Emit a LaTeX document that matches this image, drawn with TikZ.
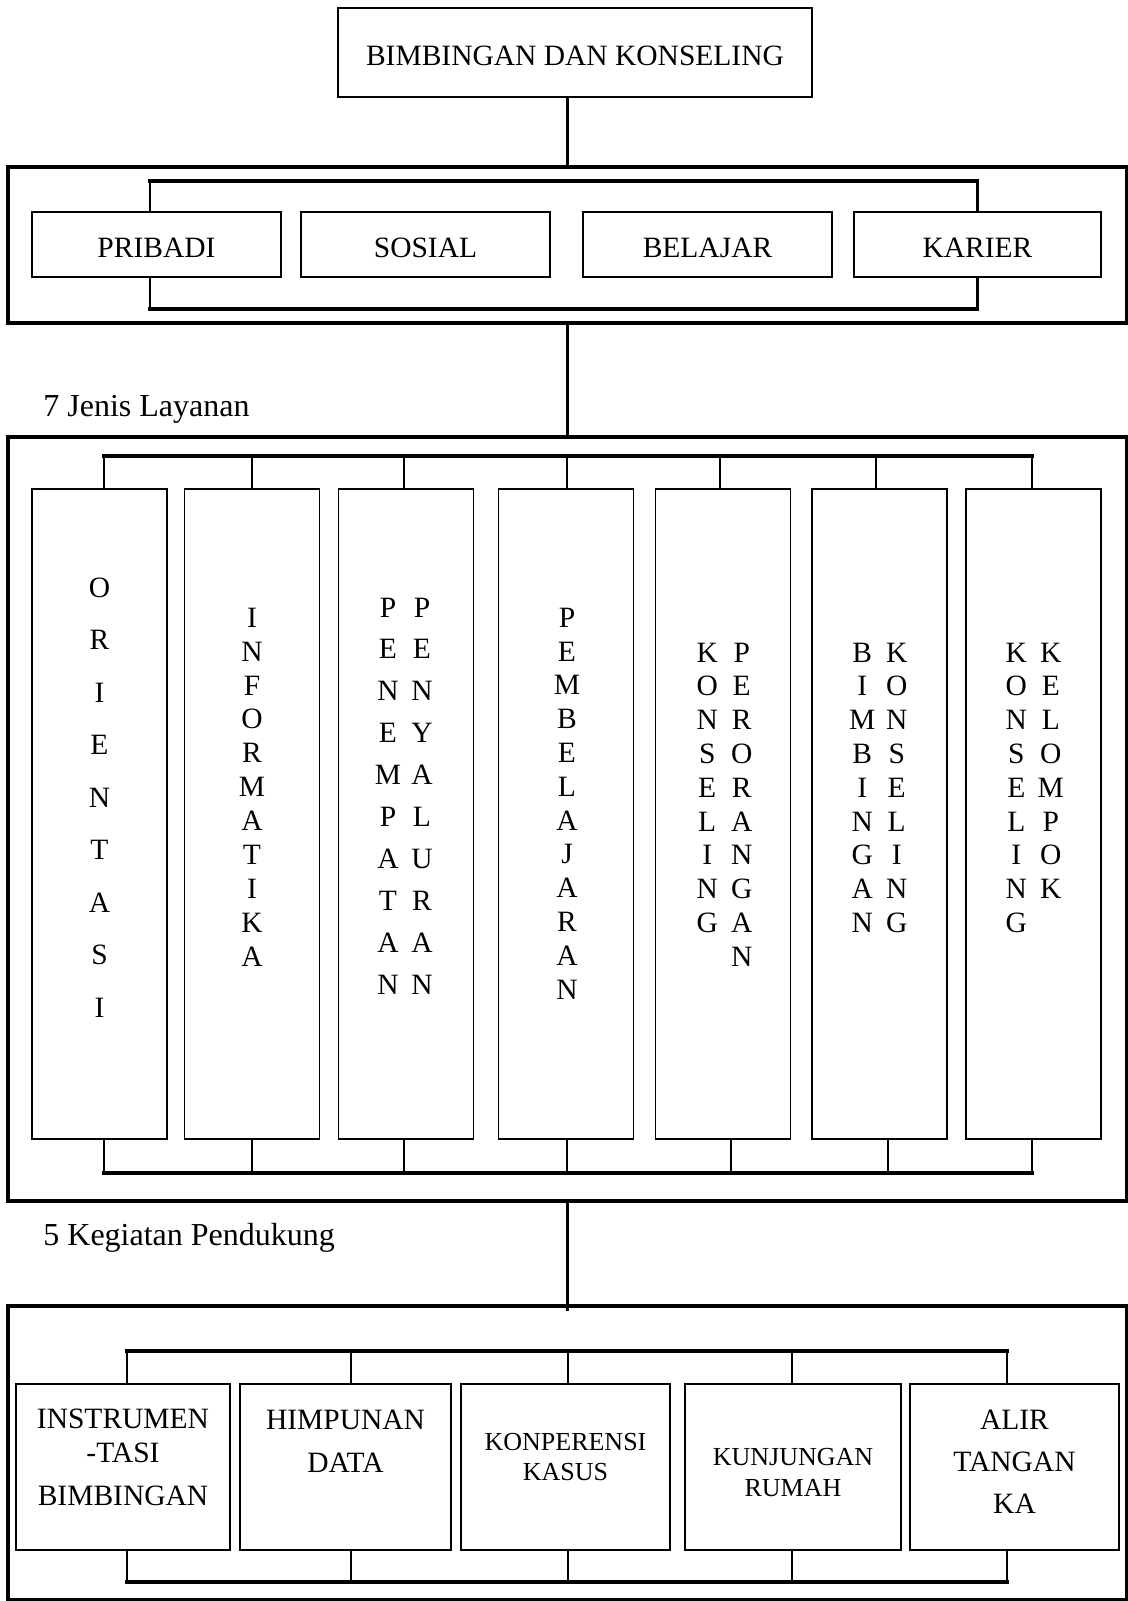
\documentclass[tikz,border=0pt]{standalone}
\usepackage{fontspec}
\setmainfont{Liberation Serif}
\usetikzlibrary{matrix,positioning}

\newcommand{\boxfont}{\fontsize{14.75}{17}\selectfont}
\newcommand{\smallfont}{\fontsize{13}{15}\selectfont}
\newcommand{\labfont}{\fontsize{16}{19}\selectfont}

\tikzset{
  box/.style={draw, line width=0.95pt, inner sep=0pt, font=\boxfont},
  frame/.style={draw, line width=1.75pt, inner sep=0pt, minimum width=559.5pt},
  field/.style={box, minimum width=124.5pt, minimum height=32.5pt, text height=13.3pt, text depth=0pt},
  column/.style={box, minimum width=67.5pt, minimum height=325pt},
  support/.style={box, minimum height=83pt},
  caption/.style={inner sep=0pt, align=center, font=\boxfont},
  link/.style={line width=1.35pt},
  bar/.style={line width=1.7pt, line cap=rect},
  lab/.style={font=\labfont, inner sep=0pt},
  letters/.style={matrix of nodes, ampersand replacement=\&, inner sep=0pt,
    column sep=3.25pt, row sep=7.1pt,
    nodes={inner sep=0pt, minimum width=14pt, text height=9.8pt, text depth=0pt, font=\boxfont}}
}

\begin{document}
\begin{tikzpicture}[x=0.5pt, y=-0.5pt]
\useasboundingbox (0,0) rectangle (1128,1601);

% puncak
\node[box, minimum width=237pt, minimum height=44.5pt, text height=13.3pt, text depth=0pt] (bimkon) at (575,52.5) {BIMBINGAN DAN KONSELING};

% bidang bimbingan
\node[frame, minimum height=78pt] (sec1) at (567.5,245) {};
\draw[link] (sec1.north) -- (sec1.north |- bimkon.south);
\node[field] (pribadi) at (156.5,244.5) {PRIBADI};
\node[field] (sosial) at (425.5,244.5) {SOSIAL};
\node[field] (belajar) at (707.5,244.5) {BELAJAR};
\node[field, minimum width=123.5pt] (karier) at (977.5,244.5) {KARIER};
\draw[link] ([xshift=-3.25pt]pribadi.north) -- ++(0,-30);
\draw[link] (karier.north) -- ++(0,-30);
\draw[bar] ([xshift=-3.25pt,yshift=15pt]pribadi.north) -- ([yshift=15pt]karier.north);
\draw[link] ([xshift=-3.25pt]pribadi.south) -- ++(0,31);
\draw[link] (karier.south) -- ++(0,31);
\draw[bar] ([xshift=-3.25pt,yshift=-15.5pt]pribadi.south) -- ([yshift=-15.5pt]karier.south);

% layanan
\node[lab, anchor=base west] (jenis) at (43,416) {7 Jenis Layanan};
\node[frame, minimum height=382pt] (sec2) at (567.5,819) {};
\draw[link] (sec1.south) -- (sec2.north);
\node[column] (c-ori) at (99.5,814) {};
\node[column] (c-inf) at (252,814) {};
\node[column] (c-pen) at (406,814) {};
\node[column] (c-pem) at (566,814) {};
\node[column] (c-kp) at (723,814) {};
\node[column] (c-bk) at (879.5,814) {};
\node[column] (c-kk) at (1033.5,814) {};

\matrix (ori-t) [letters, row sep=16.45pt, below=44.6pt of c-ori.north]
  {O\\R\\I\\E\\N\\T\\A\\S\\I\\};
\matrix (inf-t) [letters, row sep=7.15pt, below=59.6pt of c-inf.north]
  {I\\N\\F\\O\\R\\M\\A\\T\\I\\K\\A\\};
\matrix (pen-t) [letters, row sep=11.15pt, column sep=3pt, below=54.5pt of c-pen.north, xshift=-0.5pt]
  {P \& P\\ E \& E\\ N \& N\\ E \& Y\\ M \& A\\ P \& L\\ A \& U\\ T \& R\\ A \& A\\ N \& N\\};
\matrix (pem-t) [letters, below=59.6pt of c-pem.north, xshift=0.5pt]
  {P\\E\\M\\B\\E\\L\\A\\J\\A\\R\\A\\N\\};
\matrix (kp-t) [letters, below=77pt of c-kp.north, xshift=0.75pt]
  {K \& P\\ O \& E\\ N \& R\\ S \& O\\ E \& R\\ L \& A\\ I \& N\\ N \& G\\ G \& A\\ \& N\\};
\matrix (bk-t) [letters, below=77pt of c-bk.north]
  {B \& K\\ I \& O\\ M \& N\\ B \& S\\ I \& E\\ N \& L\\ G \& I\\ A \& N\\ N \& G\\};
\matrix (kk-t) [letters, below=77pt of c-kk.north]
  {K \& K\\ O \& E\\ N \& L\\ S \& O\\ E \& M\\ L \& P\\ I \& O\\ N \& K\\ G \& \\};

\foreach \nm/\dt/\db in {ori/2.25/2.25, inf/0/0, pen/-1/-1, pem/0.5/0.5, kp/-1.5/4, bk/-1.75/4.25, kk/-0.75/-0.75} {
  \draw[link] ([xshift=\dt pt]c-\nm.north) -- ++(0,-32);
  \draw[link] ([xshift=\db pt]c-\nm.south) -- ++(0,33);
}
\draw[bar] ([xshift=2.25pt,yshift=16pt]c-ori.north) -- ([xshift=-0.75pt,yshift=16pt]c-kk.north);
\draw[bar] ([xshift=2.25pt,yshift=-16.5pt]c-ori.south) -- ([xshift=-0.75pt,yshift=-16.5pt]c-kk.south);

% kegiatan pendukung
\node[lab, anchor=base west] (keg) at (43,1245) {5 Kegiatan Pendukung};
\node[frame, minimum height=147pt] (sec3) at (567.5,1453) {};
\draw[link] (sec2.south) -- ([yshift=-3.5pt]sec3.north);
\node[support, minimum width=107pt] (ins) at (123,1467) {};
\node[support, minimum width=105.5pt] (him) at (345.5,1467) {};
\node[support, minimum width=104.5pt] (kon) at (565.5,1467) {};
\node[support, minimum width=108pt] (kun) at (793,1467) {};
\node[support, minimum width=104.5pt] (ali) at (1014.5,1467) {};

\node[caption] (ins-t) at ([yshift=4.75pt]ins.center) {INSTRUMEN\\-TASI\\[4.5pt]BIMBINGAN};
\node[caption] (him-t) at ([yshift=12.75pt]him.center) {HIMPUNAN\\[4.5pt]DATA};
\node[caption, font=\smallfont] (kon-t) at ([yshift=5pt]kon.center) {KONPERENSI\\KASUS};
\node[caption, font=\smallfont] (kun-t) at ([yshift=-2.75pt]kun.center) {KUNJUNGAN\\[0.5pt]RUMAH};
\node[caption] (ali-t) at ([yshift=2.5pt]ali.center) {ALIR\\[4pt]TANGAN\\[4pt]KA};

\foreach \nm/\dx in {ins/2, him/2.75, kon/1.25, kun/-0.5, ali/-3.75} {
  \draw[link] ([xshift=\dx pt]\nm.north) -- ++(0,-32);
  \draw[link] ([xshift=\dx pt]\nm.south) -- ++(0,31);
}
\draw[bar] ([xshift=2pt,yshift=16pt]ins.north) -- ([xshift=-3.75pt,yshift=16pt]ali.north);
\draw[bar] ([xshift=2pt,yshift=-15.5pt]ins.south) -- ([xshift=-3.75pt,yshift=-15.5pt]ali.south);
\end{tikzpicture}
\end{document}
